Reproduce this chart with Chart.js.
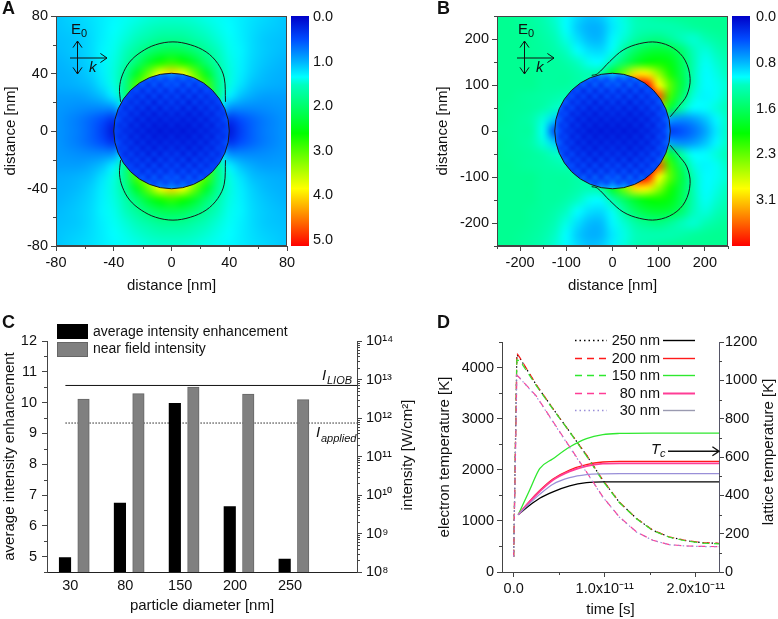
<!DOCTYPE html>
<html>
<head>
<meta charset="utf-8">
<script src="https://cdn.jsdelivr.net/npm/chart.js@4/dist/chart.umd.min.js"></script>
<style>
  body { margin: 0; background: #fff; }
  canvas { position: absolute; }
</style>
</head>
<body>
<canvas id="panelA" width="389" height="300" style="left:0;top:0"></canvas>
<canvas id="panelB" width="388" height="300" style="left:390px;top:0"></canvas>
<canvas id="panelC" width="430" height="314" style="left:0;top:305px"></canvas>
<canvas id="panelD" width="348" height="314" style="left:430px;top:305px"></canvas>
<script>
// Panel A: field map, upper right quadrant, y = 80..0 nm, x = 0..80 nm (8 nm grid)
const gridA = [0, 8, 16, 24, 32, 40, 48, 56, 64, 72, 80];
const quadA = [
  [1.45, 1.44, 1.42, 1.38, 1.35, 1.3, 1.25, 1.2, 1.16, 1.12, 1.08],
  [1.55, 1.54, 1.49, 1.44, 1.38, 1.32, 1.25, 1.18, 1.13, 1.1, 1.07],
  [1.75, 1.73, 1.63, 1.53, 1.43, 1.35, 1.26, 1.17, 1.1, 1.07, 1.05],
  [2.1, 2.05, 1.9, 1.7, 1.5, 1.37, 1.28, 1.17, 1.1, 1.06, 1.03],
  [2.75, 2.6, 2.3, 1.92, 1.6, 1.4, 1.27, 1.15, 1.08, 1.03, 1.0],
  [3.95, 3.7, 3.05, 2.35, 1.75, 1.42, 1.25, 1.12, 1.04, 1.0, 0.98],
  [4.0, 3.8, 3.4, 2.9, 1.85, 1.4, 1.2, 1.05, 1.0, 0.97, 0.96],
  [4.0, 3.8, 3.4, 2.9, 1.8, 1.25, 1.05, 0.95, 0.9, 0.9, 0.9],
  [4.0, 3.8, 3.4, 2.7, 1.3, 0.85, 0.8, 0.8, 0.82, 0.85, 0.87],
  [3.5, 3.2, 2.7, 1.9, 0.6, 0.35, 0.51, 0.63, 0.73, 0.8, 0.86],
  [0.1, 0.1, 0.1, 0.1, 0.1, 0.16, 0.43, 0.61, 0.73, 0.8, 0.86]
];
// inside the sphere, y = 40..0 nm, x = 0..40 nm (4 nm grid)
const innerGridA = [0, 4, 8, 12, 16, 20, 24, 28, 32, 36, 40];
const innerA = [
  [0.8, 0.75, 0.7, 0.7, 0.7, 0.7, 0.7, 0.7, 0.7, 0.7, 0.7],
  [0.6, 0.45, 0.6, 0.45, 0.6, 0.45, 0.6, 0.55, 0.65, 0.7, 0.7],
  [0.45, 0.55, 0.35, 0.55, 0.35, 0.55, 0.4, 0.55, 0.6, 0.7, 0.7],
  [0.5, 0.3, 0.5, 0.3, 0.5, 0.3, 0.5, 0.4, 0.55, 0.65, 0.7],
  [0.3, 0.45, 0.25, 0.45, 0.25, 0.45, 0.3, 0.45, 0.4, 0.55, 0.65],
  [0.42, 0.25, 0.42, 0.2, 0.42, 0.25, 0.42, 0.3, 0.45, 0.45, 0.65],
  [0.25, 0.38, 0.2, 0.38, 0.2, 0.38, 0.25, 0.42, 0.3, 0.5, 0.55],
  [0.32, 0.2, 0.32, 0.18, 0.32, 0.2, 0.36, 0.25, 0.42, 0.38, 0.55],
  [0.2, 0.28, 0.18, 0.28, 0.18, 0.32, 0.2, 0.36, 0.3, 0.45, 0.55],
  [0.26, 0.16, 0.24, 0.16, 0.28, 0.18, 0.32, 0.22, 0.38, 0.33, 0.5],
  [0.15, 0.22, 0.14, 0.23, 0.16, 0.28, 0.2, 0.32, 0.28, 0.4, 0.45]
];
const contourAx = [-35.3, -36, -34, -29, -21, -11, 1, 13, 24, 32, 36.5, 37.4];
const contourAy = [20.3, 30, 39, 48, 55, 60, 62, 60, 55, 47, 37, 20.3];
const sphereRadiusA = 40;
const xTicksA = [-80, -40, 0, 40, 80];
const yTicksA = [-80, -40, 0, 40, 80];
const minorA = [-60, -20, 20, 60];
const barTicksA = [0, 1, 2, 3, 4, 5];
const barLabelsA = ["0.0", "1.0", "2.0", "3.0", "4.0", "5.0"];

// Panel B: field map, upper half, y = 250..0 nm, x = -250..250 nm (25 nm grid)
const gridBx = [-250, -225, -200, -175, -150, -125, -100, -75, -50, -25, 0, 25, 50, 75, 100, 125, 150, 175, 200, 225, 250];
const gridBy = [250, 225, 200, 175, 150, 125, 100, 75, 50, 25, 0];
const halfB = [
  [1.35, 1.35, 1.32, 1.28, 1.22, 1.12, 1.02, 0.9, 0.82, 0.85, 0.98, 1.1, 1.2, 1.25, 1.3, 1.33, 1.35, 1.35, 1.35, 1.35, 1.35],
  [1.35, 1.35, 1.33, 1.3, 1.25, 1.15, 1.02, 0.85, 0.76, 0.78, 0.95, 1.08, 1.18, 1.22, 1.22, 1.22, 1.25, 1.3, 1.33, 1.35, 1.35],
  [1.35, 1.35, 1.35, 1.32, 1.28, 1.2, 1.08, 0.92, 0.8, 0.8, 1.0, 1.12, 1.28, 1.38, 1.42, 1.32, 1.18, 1.12, 1.2, 1.28, 1.33],
  [1.35, 1.35, 1.35, 1.32, 1.3, 1.25, 1.15, 1.02, 0.92, 0.9, 1.05, 1.3, 1.55, 1.7, 1.75, 1.7, 1.5, 1.18, 1.1, 1.18, 1.27],
  [1.35, 1.35, 1.35, 1.35, 1.3, 1.3, 1.25, 1.15, 1.05, 1.02, 1.25, 1.55, 1.8, 1.95, 2.0, 1.9, 1.6, 1.22, 1.05, 1.12, 1.22],
  [1.35, 1.35, 1.35, 1.35, 1.3, 1.3, 1.3, 1.25, 1.2, 1.3, 1.8, 2.4, 3.0, 2.95, 2.5, 2.05, 1.65, 1.2, 1.02, 1.08, 1.17],
  [1.35, 1.35, 1.35, 1.35, 1.3, 1.3, 1.3, 1.25, 1.2, 1.5, 2.0, 2.8, 3.85, 3.85, 2.9, 2.3, 1.7, 1.18, 1.02, 1.05, 1.12],
  [1.35, 1.35, 1.32, 1.3, 1.28, 1.25, 1.2, 1.2, 1.2, 1.5, 2.0, 2.8, 3.6, 3.85, 3.6, 2.2, 1.55, 1.1, 1.0, 1.05, 1.15],
  [1.35, 1.33, 1.32, 1.3, 1.25, 1.15, 1.1, 1.0, 1.0, 1.2, 1.5, 2.0, 2.5, 2.8, 2.6, 1.75, 1.25, 1.02, 1.02, 1.1, 1.2],
  [1.35, 1.33, 1.3, 1.25, 1.1, 0.85, 0.7, 0.7, 0.7, 0.8, 1.0, 1.2, 1.2, 1.2, 1.1, 0.7, 0.62, 0.68, 0.82, 1.0, 1.15],
  [1.32, 1.32, 1.3, 1.28, 1.05, 0.35, 0.3, 0.3, 0.3, 0.3, 0.3, 0.3, 0.3, 0.3, 0.3, 0.3, 0.4, 0.52, 0.7, 0.95, 1.15]
];
// inside the sphere, y = 125..0 nm, x = 0..125 nm (12.5 nm grid)
const innerGridB = [0, 12.5, 25, 37.5, 50, 62.5, 75, 87.5, 100, 112.5, 125];
const innerB = [
  [0.8, 0.75, 0.7, 0.65, 0.6, 0.55, 0.55, 0.5, 0.5, 0.5, 0.5],
  [0.55, 0.38, 0.5, 0.36, 0.5, 0.36, 0.5, 0.45, 0.5, 0.5, 0.5],
  [0.36, 0.46, 0.28, 0.46, 0.28, 0.46, 0.3, 0.46, 0.5, 0.5, 0.5],
  [0.4, 0.24, 0.4, 0.22, 0.4, 0.22, 0.4, 0.3, 0.48, 0.55, 0.5],
  [0.24, 0.36, 0.2, 0.36, 0.2, 0.36, 0.24, 0.4, 0.32, 0.5, 0.55],
  [0.32, 0.18, 0.32, 0.16, 0.32, 0.2, 0.34, 0.24, 0.42, 0.4, 0.55],
  [0.18, 0.28, 0.16, 0.28, 0.16, 0.3, 0.2, 0.36, 0.26, 0.45, 0.5],
  [0.25, 0.16, 0.25, 0.14, 0.25, 0.16, 0.28, 0.2, 0.36, 0.34, 0.5],
  [0.15, 0.22, 0.14, 0.22, 0.14, 0.25, 0.16, 0.3, 0.25, 0.42, 0.5],
  [0.2, 0.13, 0.2, 0.13, 0.22, 0.14, 0.27, 0.18, 0.34, 0.3, 0.55],
  [0.12, 0.18, 0.11, 0.18, 0.12, 0.22, 0.16, 0.27, 0.25, 0.38, 0.55]
];
const contourBx = [-45, -33, -6, 23, 59, 96, 132, 157, 168, 161, 143, 125];
const contourBy = [121, 124, 151, 176, 190, 193, 180, 154, 114, 78, 53, 31];
const sphereRadiusB = 125;
const xTicksB = [-200, -100, 0, 100, 200];
const yTicksB = [-200, -100, 0, 100, 200];
const minorB = [-250, -150, -50, 50, 150, 250];
const barTicksB = [0, 0.775, 1.55, 2.325, 3.1];
const barLabelsB = ["0.0", "0.8", "1.6", "2.3", "3.1"];

// Panel C
const particleDiameters = ["30", "80", "150", "200", "250"];
const avgEnhancement = [4.97, 6.74, 9.98, 6.62, 4.92];
const nearFieldIntensity = [3.1e12, 4.3e12, 6.4e12, 4.2e12, 3.0e12];
const intensityLIOB = 7e12;
const intensityApplied = 7.4e11;
const yTicksC = [5, 6, 7, 8, 9, 10, 11, 12];
const minorC = [4.5, 5.5, 6.5, 7.5, 8.5, 9.5, 10.5, 11.5];
const logTicksC = [1e8, 1e9, 1e10, 1e11, 1e12, 1e13, 1e14];
const logLabelsC = ["10⁸", "10⁹", "10¹⁰", "10¹¹", "10¹²", "10¹³", "10¹⁴"];

// Panel D, time in units of 1e-11 s
const electronTime = [0, 0.035, 0.07, 0.25, 0.43, 0.615, 0.8, 0.98, 1.16, 1.35, 1.53, 1.71, 1.9, 2.08, 2.256];
const electron250 = [300, 4250, 4180, 3655, 3200, 2745, 2285, 1795, 1368, 1046, 815, 684, 612, 572, 560];
const electron200 = [300, 4280, 4190, 3660, 3200, 2745, 2290, 1800, 1370, 1046, 817, 686, 614, 575, 562];
const electron150 = [300, 4150, 4130, 3640, 3190, 2740, 2270, 1780, 1360, 1040, 810, 680, 605, 565, 550];
const electron80 = [300, 3850, 3790, 3440, 2950, 2450, 1960, 1470, 1080, 784, 620, 536, 510, 500, 497];
const electron30 = [300, 3840, 3785, 3430, 2940, 2440, 1950, 1465, 1075, 780, 618, 534, 508, 498, 495];
const latticeTime = [0.05, 0.176, 0.286, 0.432, 0.615, 0.8, 0.98, 1.165, 1.53, 2.256];
const lattice250 = [299, 348, 385, 418, 449, 466, 470, 470, 470, 470];
const lattice200 = [299, 370, 425, 485, 532, 560, 574, 577, 577, 577];
const lattice150 = [299, 428, 539, 591, 652, 696, 717, 723, 725, 725];
const lattice80 = [299, 367, 420, 480, 525, 553, 565, 567, 567, 567];
const lattice30 = [299, 358, 405, 458, 492, 508, 512, 513, 513, 513];
const seriesNames = ["250 nm", "200 nm", "150 nm", "80 nm", "30 nm"];
const tcTemperature = 630;
const timeTicks = [0, 1, 2];
const timeLabels = ["0.0", "1.0x10⁻¹¹", "2.0x10⁻¹¹"];
const minorTime = [0.5, 1.5];
const yTicksD = [0, 1000, 2000, 3000, 4000];
const minorD = [500, 1500, 2500, 3500, 4500];
const y2TicksD = [0, 200, 400, 600, 800, 1000, 1200];
const minor2D = [100, 300, 500, 700, 900, 1100];

const FONT = '"Liberation Sans", Arial, sans-serif';
const AXIS = "#444";
Chart.defaults.font.family = FONT;
Chart.defaults.font.size = 14.5;
Chart.defaults.color = "#111";
Chart.defaults.animation = false;

const seriesColors = ["#000000", "#ff1a1a", "#2fe82f", "#ff3d96", "#9a8fd8"];
const legendColors = ["#000000", "#ff1a1a", "#2fe82f", "#ff3d96", "#9a9ab0"];
const dashes = [[1.5, 3], [7, 5], [7, 5], [7, 5], [1.5, 3]];

// colour table of the bars next to A and B, position 0..1 top to bottom
const colorStops = [
  [0, [0, 0, 200]], [0.1, [0, 75, 255]], [0.2, [0, 180, 255]], [0.265, [0, 255, 255]],
  [0.3, [0, 255, 190]], [0.51, [0, 255, 0]], [0.75, [255, 255, 0]], [1, [255, 0, 0]]
];

function colorAt(f) {
  f = Math.min(1, Math.max(0, f));
  for (let i = 1; i < colorStops.length; i++) {
    const [p1, c1] = colorStops[i - 1];
    const [p2, c2] = colorStops[i];
    if (f <= p2) {
      const t = (f - p1) / (p2 - p1);
      return "rgb(" + c1.map((c, k) => Math.round(c + (c2[k] - c) * t)).join(",") + ")";
    }
  }
  return "rgb(255,0,0)";
}

const mirrorRow = (row) => [...row.slice(1).reverse(), ...row];
const mirrorAxis = (vals) => [...vals.slice(1).reverse().map((v) => -v), ...vals];
const flipRows = (rows) => [...rows, ...rows.slice(0, -1).reverse()];

// one scatter point per grid cell, {x, y, v}
function gridPoints(xs, ys, rows) {
  const pts = [];
  rows.forEach((row, j) => row.forEach((v, i) => pts.push({ x: xs[i], y: ys[j], v: v })));
  return pts;
}

function drawText(ctx, text, x, y, font, align, rotate) {
  ctx.save();
  ctx.translate(x, y);
  if (rotate) ctx.rotate(rotate);
  ctx.font = font;
  ctx.fillStyle = "#111";
  ctx.textAlign = align || "left";
  ctx.textBaseline = "middle";
  ctx.fillText(text, 0, 0);
  ctx.restore();
}

function drawArrow(ctx, x1, y1, x2, y2, both, width) {
  const head = (x, y, a) => {
    ctx.moveTo(x - 8 * Math.cos(a - 0.6), y - 8 * Math.sin(a - 0.6));
    ctx.lineTo(x, y);
    ctx.lineTo(x - 8 * Math.cos(a + 0.6), y - 8 * Math.sin(a + 0.6));
  };
  const a = Math.atan2(y2 - y1, x2 - x1);
  ctx.beginPath();
  ctx.moveTo(x1, y1);
  ctx.lineTo(x2, y2);
  head(x2, y2, a);
  if (both) head(x1, y1, a + Math.PI);
  ctx.strokeStyle = "#111";
  ctx.lineWidth = width || 1;
  ctx.stroke();
}

function drawMinorTicks(chart, axisId, values, len) {
  const scale = chart.scales[axisId];
  const ctx = chart.ctx;
  ctx.beginPath();
  values.forEach((v) => {
    const p = Math.round(scale.getPixelForValue(v)) + 0.5;
    if (axisId === "x") {
      ctx.moveTo(p, scale.top);
      ctx.lineTo(p, scale.top + len);
    } else if (scale.position === "right") {
      ctx.moveTo(scale.left, p);
      ctx.lineTo(scale.left + len, p);
    } else {
      ctx.moveTo(scale.right, p);
      ctx.lineTo(scale.right - len, p);
    }
  });
  ctx.strokeStyle = AXIS;
  ctx.lineWidth = 1;
  ctx.stroke();
}

function axisTicks(values, labels) {
  return {
    afterBuildTicks: (scale) => { scale.ticks = values.map((v) => ({ value: v })); },
    callback: function (value, i) { return labels ? labels[i] : String(value); }
  };
}

function heatPanel(id, p) {
  const heatPlugin = {
    id: "heat",
    beforeDatasetsDraw(chart) {
      const ctx = chart.ctx;
      const area = chart.chartArea;
      const paint = (index, cols, rows) => {
        const meta = chart.getDatasetMeta(index);
        const points = chart.data.datasets[index].data;
        const off = document.createElement("canvas");
        off.width = cols;
        off.height = rows;
        const oc = off.getContext("2d");
        points.forEach((pt, k) => {
          oc.fillStyle = colorAt(pt.v / p.maxValue);
          oc.fillRect(k % cols, Math.floor(k / cols), 1, 1);
        });
        const first = meta.data[0];
        const last = meta.data[points.length - 1];
        const dx = (last.x - first.x) / (cols - 1);
        const dy = (last.y - first.y) / (rows - 1);
        ctx.imageSmoothingEnabled = true;
        ctx.imageSmoothingQuality = "high";
        ctx.drawImage(off, first.x - dx / 2, first.y - dy / 2, dx * cols, dy * rows);
      };
      ctx.save();
      ctx.beginPath();
      ctx.rect(area.left, area.top, area.width, area.height);
      ctx.clip();
      paint(0, p.cols, p.rows);
      ctx.restore();

      const sx = chart.scales.x;
      const cx = sx.getPixelForValue(0);
      const cy = chart.scales.y.getPixelForValue(0);
      const r = Math.abs(sx.getPixelForValue(p.radius) - cx);
      ctx.save();
      ctx.beginPath();
      ctx.arc(cx, cy, r, 0, Math.PI * 2);
      ctx.clip();
      paint(1, p.innerCols, p.innerCols);
      ctx.restore();
      ctx.beginPath();
      ctx.arc(cx, cy, r, 0, Math.PI * 2);
      ctx.strokeStyle = "#1a1a1a";
      ctx.lineWidth = 1;
      ctx.stroke();
    },
    afterDraw(chart) {
      const ctx = chart.ctx;
      const a = chart.chartArea;
      ctx.strokeStyle = AXIS;
      ctx.lineWidth = 1;
      ctx.strokeRect(a.left + 0.5, a.top + 0.5, a.width - 1, a.height - 1);
      drawMinorTicks(chart, "x", p.minor, 3);
      drawMinorTicks(chart, "y", p.minor, 3);

      // colour bar
      const barL = a.right + 4;
      const grad = ctx.createLinearGradient(0, a.top, 0, a.bottom);
      colorStops.forEach(([pos]) => grad.addColorStop(pos, colorAt(pos)));
      ctx.fillStyle = grad;
      ctx.fillRect(barL, a.top, 18, a.height);

      drawText(ctx, p.letter, p.letterX, 9, "bold 18px " + FONT);
      // polarisation and wave vector
      const ax = a.left + p.arrowX;
      drawArrow(ctx, ax, a.top + 42, ax + 37, a.top + 42, false);
      drawArrow(ctx, ax + 7.5, a.top + 25, ax + 7.5, a.top + 58, true);
      drawText(ctx, "E", ax + 1, a.top + 14, "15px " + FONT);
      drawText(ctx, "0", ax + 11, a.top + 18, "11px " + FONT);
      drawText(ctx, "k", ax + 19, a.top + 52, "italic 15px " + FONT);
    }
  };

  new Chart(document.getElementById(id), {
    type: "scatter",
    data: {
      datasets: [
        { data: p.field, pointRadius: 0, showLine: false },
        { data: p.inner, pointRadius: 0, showLine: false },
        { data: p.contourX.map((x, i) => ({ x: x, y: p.contourY[i] })), showLine: true, pointRadius: 0, borderColor: "#1a1a1a", borderWidth: 1, tension: 0.35, fill: false },
        { data: p.contourX.map((x, i) => ({ x: x, y: -p.contourY[i] })), showLine: true, pointRadius: 0, borderColor: "#1a1a1a", borderWidth: 1, tension: 0.35, fill: false }
      ]
    },
    options: {
      responsive: false,
      layout: { padding: { top: 16 } },
      plugins: { legend: { display: false }, tooltip: { enabled: false } },
      scales: {
        x: {
          type: "linear",
          min: p.min,
          max: p.max,
          afterFit: (s) => { s.height = 54; },
          afterBuildTicks: axisTicks(p.xTicks).afterBuildTicks,
          ticks: { callback: axisTicks(p.xTicks).callback, autoSkip: false, maxRotation: 0, padding: 3 },
          grid: { drawOnChartArea: false, tickLength: 5, tickColor: AXIS },
          border: { color: AXIS },
          title: { display: true, text: "distance [nm]", font: { size: 15 }, padding: { top: 0, bottom: 5 } }
        },
        y: {
          type: "linear",
          min: p.min,
          max: p.max,
          afterFit: (s) => { s.width = p.left; s.paddingTop = 0; s.paddingBottom = 0; },
          afterBuildTicks: axisTicks(p.yTicks).afterBuildTicks,
          ticks: { callback: axisTicks(p.yTicks).callback, autoSkip: false, padding: 3 },
          grid: { drawOnChartArea: false, tickLength: 5, tickColor: AXIS },
          border: { color: AXIS },
          title: { display: true, text: "distance [nm]", font: { size: 15 }, padding: { top: p.titleX, bottom: 0 } }
        },
        bar: {
          type: "linear",
          position: "right",
          reverse: true,
          min: p.barMin,
          max: p.barMax,
          // the big label padding must not push the plot area down
          afterFit: (s) => { s.width = p.rightWidth; s.paddingTop = 0; s.paddingBottom = 0; },
          afterBuildTicks: axisTicks(p.barTicks).afterBuildTicks,
          ticks: { callback: axisTicks(p.barTicks, p.barLabels).callback, autoSkip: false, padding: p.barPad },
          grid: { display: false },
          border: { display: false }
        }
      }
    },
    plugins: [heatPlugin]
  });
}

heatPanel("panelA", {
  letter: "A", letterX: 2, arrowX: 14,
  left: 56, rightWidth: 102, titleX: 2, barPad: 18,
  min: -80, max: 80, maxValue: 5, radius: sphereRadiusA,
  xTicks: xTicksA, yTicks: yTicksA, minor: minorA,
  barTicks: barTicksA, barLabels: barLabelsA, barMin: -0.02, barMax: 5.135,
  cols: 21, rows: 21, innerCols: 21,
  field: gridPoints(mirrorAxis(gridA), mirrorAxis(gridA).reverse(), flipRows(quadA).map(mirrorRow)),
  inner: gridPoints(mirrorAxis(innerGridA), mirrorAxis(innerGridA).reverse(), flipRows(innerA).map(mirrorRow)),
  contourX: contourAx, contourY: contourAy
});

heatPanel("panelB", {
  letter: "B", letterX: 47, arrowX: 20,
  left: 107, rightWidth: 50, titleX: 44, barPad: 20,
  min: -250, max: 250, maxValue: 3.875, radius: sphereRadiusB,
  xTicks: xTicksB, yTicks: yTicksB, minor: minorB,
  barTicks: barTicksB, barLabels: barLabelsB, barMin: -0.02, barMax: 3.88,
  cols: 21, rows: 21, innerCols: 21,
  field: gridPoints(gridBx, [...gridBy, ...gridBy.slice(0, -1).reverse().map((v) => -v)], flipRows(halfB)),
  inner: gridPoints(mirrorAxis(innerGridB), mirrorAxis(innerGridB).reverse(), flipRows(innerB).map(mirrorRow)),
  contourX: contourBx, contourY: contourBy
});

// Panel C: bars sit beside the tick of their category
const blackShift = -0.097;
const grayShift = 0.24;
const xMinC = -0.425;
const xMaxC = 5.22;
const lineStartC = -0.09;

const panelCPlugin = {
  id: "panelC",
  afterDraw(chart) {
    const ctx = chart.ctx;
    drawMinorTicks(chart, "y", minorC, 3);
    const logMinor = [];
    logTicksC.slice(0, -1).forEach((d) => [2, 3, 4, 5, 6, 7, 8, 9].forEach((m) => logMinor.push(d * m)));
    drawMinorTicks(chart, "yI", logMinor, 3);

    drawText(ctx, "C", 2, 18.5, "bold 18px " + FONT);
    drawText(ctx, "intensity [W/cm²]", 408, 150, "15px " + FONT, "center", -Math.PI / 2);

    // legend
    ctx.fillStyle = "#000";
    ctx.fillRect(57, 19, 31, 15);
    ctx.fillStyle = "#808080";
    ctx.fillRect(57, 37, 31, 15);
    ctx.strokeStyle = "#666";
    ctx.strokeRect(57.5, 37.5, 30, 14);
    drawText(ctx, "average intensity enhancement", 93, 27, "14px " + FONT);
    drawText(ctx, "near field intensity", 93, 44, "14px " + FONT);

    // line labels
    const yL = chart.scales.yI.getPixelForValue(intensityLIOB);
    const yA = chart.scales.yI.getPixelForValue(intensityApplied);
    drawText(ctx, "I", 322, yL - 10, "italic 15px " + FONT);
    drawText(ctx, "LIOB", 327, yL - 5, "italic 11px " + FONT);
    drawText(ctx, "I", 316, yA + 10, "italic 15px " + FONT);
    drawText(ctx, "applied", 321, yA + 16, "italic 11px " + FONT);
  }
};

new Chart(document.getElementById("panelC"), {
  type: "bar",
  data: {
    datasets: [
      { label: "average intensity enhancement", data: avgEnhancement.map((v, i) => ({ x: i + blackShift, y: v })), backgroundColor: "#000", barThickness: 11.5, grouped: false, yAxisID: "y" },
      { label: "near field intensity", data: nearFieldIntensity.map((v, i) => ({ x: i + grayShift, y: v })), backgroundColor: "#808080", borderColor: "#666", borderWidth: 1, barThickness: 11.5, grouped: false, yAxisID: "yI" },
      { type: "line", data: [{ x: lineStartC, y: intensityLIOB }, { x: xMaxC, y: intensityLIOB }], borderColor: "#111", borderWidth: 1, pointRadius: 0, yAxisID: "yI" },
      { type: "line", data: [{ x: lineStartC, y: intensityApplied }, { x: xMaxC, y: intensityApplied }], borderColor: "#222", borderWidth: 1, borderDash: [1.5, 1.5], pointRadius: 0, yAxisID: "yI" }
    ]
  },
  options: {
    responsive: false,
    layout: { padding: { top: 36 } },
    plugins: { legend: { display: false }, tooltip: { enabled: false } },
    scales: {
      x: {
        type: "linear",
        offset: false,
        min: xMinC,
        max: xMaxC,
        afterFit: (s) => { s.height = 47; },
        afterBuildTicks: (s) => { s.ticks = particleDiameters.map((d, i) => ({ value: i })); },
        ticks: { callback: (v, i) => particleDiameters[i], autoSkip: false, maxRotation: 0, padding: 2 },
        grid: { drawOnChartArea: false, offset: false, tickLength: 3, tickColor: "rgba(0,0,0,0)" },
        border: { color: "#222" },
        title: { display: true, text: "particle diameter [nm]", font: { size: 15 }, padding: { top: 0, bottom: 4 } }
      },
      y: {
        type: "linear",
        min: 4.5,
        max: 12,
        afterFit: (s) => { s.width = 47; },
        afterBuildTicks: axisTicks(yTicksC).afterBuildTicks,
        ticks: { callback: axisTicks(yTicksC).callback, autoSkip: false, padding: 5 },
        grid: { drawOnChartArea: false, tickLength: 5, tickColor: AXIS },
        border: { color: AXIS },
        title: { display: true, text: "average intensity enhancement", font: { size: 15 }, padding: { top: 1, bottom: 0 } }
      },
      yI: {
        type: "logarithmic",
        position: "right",
        min: 1e8,
        max: 1e14,
        afterFit: (s) => { s.width = 73; },
        afterBuildTicks: axisTicks(logTicksC).afterBuildTicks,
        ticks: { callback: axisTicks(logTicksC, logLabelsC).callback, autoSkip: false, padding: 4 },
        grid: { drawOnChartArea: false, tickLength: 5, tickColor: AXIS },
        border: { color: AXIS }
      }
    }
  },
  plugins: [panelCPlugin]
});

// Panel D
const electronSeries = [electron250, electron200, electron150, electron80, electron30];
const latticeSeries = [lattice250, lattice200, lattice150, lattice80, lattice30];

const panelDPlugin = {
  id: "panelD",
  afterDraw(chart) {
    const ctx = chart.ctx;
    drawMinorTicks(chart, "x", minorTime, 3);
    drawMinorTicks(chart, "y", minorD, 3);
    drawMinorTicks(chart, "y2", minor2D, 3);
    drawText(ctx, "D", 7, 18, "bold 18px " + FONT);
    drawText(ctx, "lattice temperature [K]", 339, 147, "15px " + FONT, "center", -Math.PI / 2);

    // double legend: electron line, name, lattice line
    seriesNames.forEach((name, i) => {
      const y = Math.round(35 + i * 17.5) + 0.5;
      ctx.beginPath();
      ctx.setLineDash(dashes[i]);
      ctx.moveTo(145, y);
      ctx.lineTo(177, y);
      ctx.strokeStyle = seriesColors[i];
      ctx.lineWidth = 1.3;
      ctx.stroke();
      ctx.setLineDash([]);
      ctx.beginPath();
      ctx.moveTo(233, y);
      ctx.lineTo(265, y);
      ctx.strokeStyle = legendColors[i];
      ctx.lineWidth = i === 3 ? 2 : 1.4;
      ctx.stroke();
      drawText(ctx, name, 230, y, "14.5px " + FONT, "right");
    });

    // Tc arrow
    const yTc = chart.scales.y2.getPixelForValue(tcTemperature);
    const xTc = chart.scales.x.getPixelForValue(1.696);
    drawArrow(ctx, xTc, yTc, chart.chartArea.right, yTc, false, 1.4);
    drawText(ctx, "T", xTc - 17, yTc - 1, "italic 15px " + FONT);
    drawText(ctx, "c", xTc - 8, yTc + 3, "italic 11px " + FONT);
  }
};

new Chart(document.getElementById("panelD"), {
  type: "line",
  data: {
    datasets: [
      // lower order is painted last: black dots at the bottom, as in the picture
      ...electronSeries.map((vals, i) => ({
        data: vals.map((v, k) => ({ x: electronTime[k], y: v })),
        borderColor: seriesColors[i], borderDash: dashes[i], borderWidth: 1.2, pointRadius: 0, yAxisID: "y", order: 4 - i
      })),
      ...latticeSeries.map((vals, i) => ({
        data: vals.map((v, k) => ({ x: latticeTime[k], y: v })),
        borderColor: seriesColors[i], borderWidth: i === 3 ? 1.8 : 1.3, pointRadius: 0, cubicInterpolationMode: "monotone", yAxisID: "y2", order: 4 - i
      }))
    ]
  },
  options: {
    responsive: false,
    layout: { padding: { top: 37 } },
    plugins: { legend: { display: false }, tooltip: { enabled: false } },
    scales: {
      x: {
        type: "linear",
        min: -0.128,
        max: 2.256,
        afterFit: (s) => { s.height = 47; },
        afterBuildTicks: axisTicks(timeTicks).afterBuildTicks,
        ticks: { callback: axisTicks(timeTicks, timeLabels).callback, autoSkip: false, maxRotation: 0, padding: 3 },
        grid: { drawOnChartArea: false, tickLength: 5, tickColor: AXIS },
        border: { color: AXIS },
        title: { display: true, text: "time [s]", font: { size: 15 }, padding: { top: 0, bottom: 0 } }
      },
      y: {
        type: "linear",
        min: 0,
        max: 4500,
        afterFit: (s) => { s.width = 72; },
        afterBuildTicks: axisTicks(yTicksD).afterBuildTicks,
        ticks: { callback: axisTicks(yTicksD).callback, autoSkip: false, padding: 3 },
        grid: { drawOnChartArea: false, tickLength: 5, tickColor: AXIS },
        border: { color: AXIS },
        title: { display: true, text: "electron temperature [K]", font: { size: 15 }, padding: { top: 6, bottom: 0 } }
      },
      y2: {
        type: "linear",
        position: "right",
        min: 0,
        max: 1200,
        afterFit: (s) => { s.width = 59; },
        afterBuildTicks: axisTicks(y2TicksD).afterBuildTicks,
        ticks: { callback: axisTicks(y2TicksD).callback, autoSkip: false, padding: 1 },
        grid: { drawOnChartArea: false, tickLength: 5, tickColor: AXIS },
        border: { color: "#556" }
      }
    }
  },
  plugins: [panelDPlugin]
});
</script>
</body>
</html>
